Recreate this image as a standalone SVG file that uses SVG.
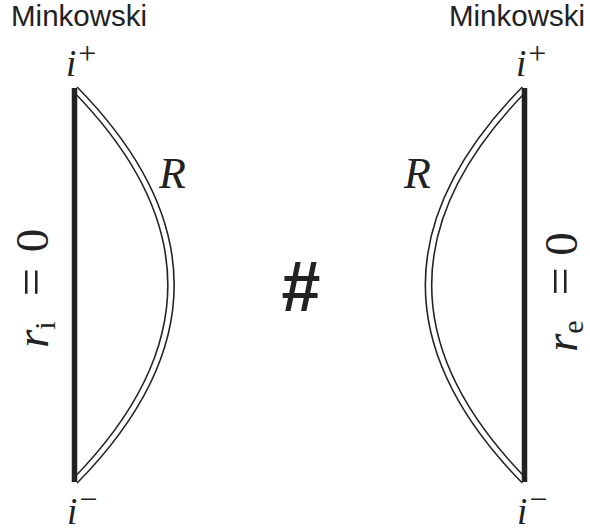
<svg xmlns="http://www.w3.org/2000/svg" width="590" height="532" viewBox="0 0 590 532">
<style>
.lbl{font-family:"Liberation Sans",Arial,sans-serif;font-size:29.5px;fill:#222}
.m{font-family:"Liberation Serif","Times New Roman",serif;font-style:italic;fill:#222}
.up{font-family:"Liberation Serif","Times New Roman",serif;font-style:normal;fill:#222}
.outer{fill:none;stroke:#222;stroke-width:7.5}
.inner{fill:none;stroke:#fff;stroke-width:4.5}
.axis{stroke:#222;stroke-width:5.5;fill:none}
</style>
<rect width="590" height="532" fill="#fff"/>
<g id="left">
  <text class="lbl" x="11" y="26">Minkowski</text>
  <path class="outer" d="M75,89 Q267,285 75,481"/>
  <path class="inner" d="M75,89 Q267,285 75,481"/>
  <line class="axis" x1="74.5" y1="88" x2="74.5" y2="482"/>
  <text class="m" x="66" y="76" font-size="37">i<tspan class="up" dy="-12" dx="2" font-size="32">+</tspan></text>
  <text class="m" x="67" y="524" font-size="37">i<tspan class="up" dy="-14" dx="2" font-size="32">−</tspan></text>
  <text class="m" x="159" y="188" font-size="44">R</text>
  <text class="m" font-size="47" transform="translate(48,348) rotate(-90)">r<tspan class="up" dy="7" font-size="30">i</tspan><tspan class="up" dy="-7" dx="25" font-size="50">=</tspan><tspan class="up" dx="16">0</tspan></text>
</g>
<g id="hash">
  <text x="301" y="311" text-anchor="middle" font-family="Liberation Sans,Arial,sans-serif" font-weight="bold" font-size="70" fill="#222">#</text>
</g>
<g id="right">
  <text class="lbl" x="585" y="26" text-anchor="end">Minkowski</text>
  <path class="outer" d="M524.5,89 Q332.5,285 524.5,481"/>
  <path class="inner" d="M524.5,89 Q332.5,285 524.5,481"/>
  <line class="axis" x1="524.5" y1="88" x2="524.5" y2="482"/>
  <text class="m" x="516" y="76" font-size="37">i<tspan class="up" dy="-12" dx="2" font-size="32">+</tspan></text>
  <text class="m" x="517" y="524" font-size="37">i<tspan class="up" dy="-14" dx="2" font-size="32">−</tspan></text>
  <text class="m" x="404" y="188" font-size="44">R</text>
  <text class="m" font-size="47" transform="translate(577,352) rotate(-90)">r<tspan class="up" dy="6" font-size="30">e</tspan><tspan class="up" dy="-6" dx="25" font-size="50">=</tspan><tspan class="up" dx="11.5">0</tspan></text>
</g>
</svg>
